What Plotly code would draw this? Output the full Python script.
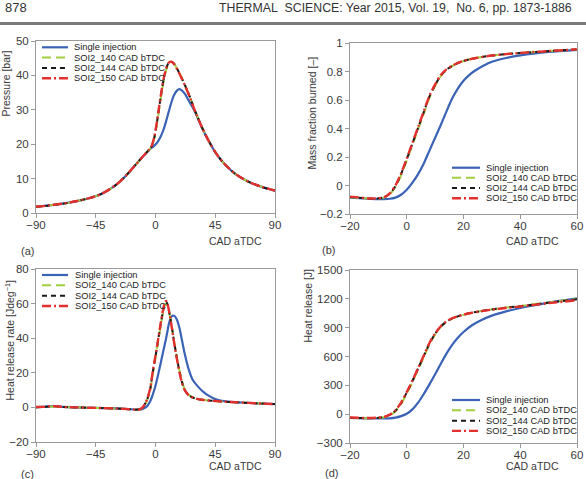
import plotly.graph_objects as go

# ---------------- data ----------------
series_names = ["Single injection", "SOI2_140 CAD bTDC", "SOI2_144 CAD bTDC", "SOI2_150 CAD bTDC"]

# (a) in-cylinder pressure [bar] vs CAD aTDC
p_cad = [-90, -80, -70, -60, -50, -45, -40, -35, -30, -25, -20, -15, -10, -7, -5, -3, -1, 0, 2, 4,
         6, 8, 10, 12, 14, 16, 18, 20, 22, 24, 26, 28, 30, 35, 40, 45, 50, 55, 60, 70, 80, 90]
p_single = [1.8, 2.2, 2.7, 3.4, 4.3, 4.9, 5.7, 6.8, 8.1, 9.8, 11.8, 14.0, 16.2, 17.4, 18.2, 18.9, 19.5, 19.9, 20.9, 22.3,
            24.2, 26.7, 29.5, 32.2, 34.3, 35.5, 36.0, 35.6, 34.7, 33.4, 32.0, 30.7, 29.2, 24.8, 21.0, 17.7, 15.1, 13.1, 11.4, 9.1, 7.6, 6.5]
p_soi140 = [1.8, 2.2, 2.7, 3.4, 4.3, 4.9, 5.7, 6.8, 8.1, 9.8, 11.8, 14.0, 16.2, 17.5, 18.3, 19.2, 21.5, 23.4, 28.2, 33.4,
            38.1, 41.5, 43.4, 43.8, 43.3, 42.1, 40.7, 39.1, 37.4, 35.6, 33.7, 31.6, 29.6, 25.0, 21.0, 17.7, 15.1, 13.1, 11.4, 9.1, 7.6, 6.5]
p_soi144 = [1.8, 2.2, 2.7, 3.4, 4.3, 4.9, 5.7, 6.8, 8.1, 9.8, 11.8, 14.0, 16.2, 17.5, 18.4, 19.3, 21.8, 23.8, 28.7, 33.9,
            38.6, 41.9, 43.7, 44.0, 43.4, 42.1, 40.6, 39.0, 37.3, 35.5, 33.6, 31.5, 29.5, 24.9, 21.0, 17.7, 15.1, 13.1, 11.4, 9.1, 7.6, 6.5]
p_soi150 = [1.8, 2.2, 2.7, 3.4, 4.3, 4.9, 5.7, 6.8, 8.1, 9.8, 11.8, 14.0, 16.2, 17.5, 18.4, 19.4, 22.0, 24.0, 29.0, 34.2,
            38.8, 42.0, 43.7, 44.0, 43.3, 42.0, 40.5, 38.9, 37.2, 35.4, 33.5, 31.4, 29.4, 24.9, 21.0, 17.7, 15.1, 13.1, 11.4, 9.1, 7.6, 6.5]

# (b) mass fraction burned [-]
m_cad = [-20, -17, -14, -11, -8, -6, -4, -2, 0, 2, 4, 6, 8, 10, 12, 14, 16, 18, 20, 22, 24, 27, 30, 35, 40, 50, 60]
m_single = [-0.085, -0.088, -0.092, -0.095, -0.095, -0.093, -0.085, -0.065, -0.03, 0.02, 0.08, 0.155, 0.245, 0.335, 0.425,
            0.52, 0.61, 0.68, 0.735, 0.775, 0.805, 0.84, 0.868, 0.895, 0.913, 0.937, 0.952]
m_soi140 = [-0.082, -0.086, -0.09, -0.092, -0.085, -0.062, -0.01, 0.072, 0.175, 0.285, 0.395, 0.505, 0.615, 0.70, 0.768,
            0.81, 0.837, 0.858, 0.873, 0.884, 0.893, 0.903, 0.912, 0.922, 0.93, 0.943, 0.955]
m_soi144 = [-0.08, -0.085, -0.09, -0.092, -0.083, -0.058, -0.004, 0.08, 0.185, 0.295, 0.405, 0.515, 0.625, 0.705, 0.772,
            0.813, 0.839, 0.859, 0.874, 0.885, 0.893, 0.903, 0.912, 0.922, 0.93, 0.943, 0.955]
m_soi150 = [-0.078, -0.083, -0.09, -0.09, -0.082, -0.055, 0.0, 0.085, 0.19, 0.30, 0.41, 0.52, 0.63, 0.71, 0.775,
            0.815, 0.84, 0.86, 0.875, 0.885, 0.893, 0.903, 0.912, 0.922, 0.93, 0.943, 0.955]

# (c) heat release rate [J/deg]
r_cad = [-90, -85, -80, -75, -70, -60, -50, -40, -30, -20, -15, -12, -10, -8, -6, -4, -2, 0, 2, 4,
         6, 7, 8, 9, 10, 12, 14, 16, 18, 20, 22, 25, 28, 32, 36, 40, 45, 50, 60, 70, 80, 90]
r_single = [0.2, 0.3, 0.6, 0.7, 0.3, 0.0, -0.2, -0.4, -0.6, -1.0, -1.2, -1.2, -1.0, -0.3, 1.0, 3.5, 7.5, 12.5, 19.0, 26.0,
            33.0, 36.5, 40.0, 44.0, 48.0, 52.5, 53.0, 51.0, 46.0, 38.5, 31.0, 22.0, 16.0, 12.0, 9.0, 6.8, 4.8, 3.8, 3.0, 2.6, 2.2, 1.9]
r_soi140 = [0.1, 0.2, 0.4, 0.5, 0.2, 0.0, -0.2, -0.4, -0.6, -1.0, -1.3, -1.2, -0.4, 1.5, 4.8, 10.0, 19.5, 28.5, 38.0, 47.5,
            56.0, 59.0, 60.0, 59.0, 56.0, 48.0, 38.5, 29.5, 21.5, 15.0, 10.5, 7.3, 5.8, 4.9, 4.4, 4.0, 3.7, 3.4, 3.0, 2.6, 2.2, 1.9]
r_soi144 = [0.1, 0.2, 0.5, 0.6, 0.3, 0.0, -0.2, -0.4, -0.6, -1.0, -1.3, -1.1, -0.3, 1.8, 5.2, 10.6, 20.5, 29.5, 39.0, 48.5,
            57.0, 60.2, 61.0, 59.8, 56.5, 47.8, 38.0, 29.0, 21.0, 14.5, 10.2, 7.1, 5.7, 4.8, 4.3, 4.0, 3.7, 3.4, 3.0, 2.6, 2.2, 1.9]
r_soi150 = [0.2, 0.3, 0.6, 0.7, 0.3, 0.0, -0.2, -0.4, -0.6, -1.0, -1.3, -1.1, -0.2, 2.0, 5.5, 11.0, 21.0, 30.0, 39.5, 49.0,
            57.5, 60.5, 61.5, 60.0, 56.5, 47.5, 37.5, 28.5, 20.5, 14.0, 10.0, 7.0, 5.6, 4.8, 4.3, 4.0, 3.7, 3.4, 3.0, 2.6, 2.2, 1.9]

# (d) cumulative heat release [J]
h_cad = [-20, -17, -14, -11, -8, -6, -4, -2, 0, 2, 4, 6, 8, 10, 12, 14, 16, 18, 20, 23, 26, 30, 35, 40, 50, 60]
h_single = [-40, -42, -44, -45, -45, -43, -36, -20, 5, 50, 120, 210, 310, 415, 525, 630, 720, 795, 855, 925,
            975, 1025, 1070, 1105, 1160, 1205]
h_soi140 = [-40, -42, -43, -41, -32, -12, 28, 105, 215, 335, 465, 595, 725, 830, 908, 960, 995, 1016, 1034, 1055,
            1072, 1091, 1109, 1126, 1163, 1200]
h_soi144 = [-38, -40, -42, -40, -30, -8, 35, 115, 225, 345, 475, 605, 735, 836, 912, 963, 997, 1018, 1035, 1056,
            1072, 1090, 1108, 1124, 1160, 1195]
h_soi150 = [-35, -38, -40, -38, -28, -5, 40, 120, 230, 350, 480, 610, 740, 840, 915, 965, 998, 1018, 1035, 1055,
            1070, 1088, 1105, 1120, 1155, 1185]

# tick settings
a_xticks = [-90, -45, 0, 45, 90]
b_xticks = [-20, 0, 20, 40, 60]

# ---------------- styling ----------------
W, H = 586, 479
FONT = "Liberation Sans, Arial, Helvetica, sans-serif"
colors = ["#3a62b5", "#9fce3e", "#1a1a1a", "#e3302f"]
dashes = ["solid", "9px,5px", "5px,4px", "9px,3px,2px,3px"]
widths = [2.2, 2.0, 2.0, 2.4]


def fx(p):
    return p / W


def fy(p):
    return 1 - p / H


panels = [
    dict(key="a", xp=(36, 275), yp=(41, 213), x=p_cad, ys=[p_single, p_soi140, p_soi144, p_soi150],
         xr=[-90, 90], xt=a_xticks, yr=[0, 50], dt=10, yt="Pressure [bar]", ytpos=(6, 83.5),
         leg=(42, 68, 72, [47.3, 57.6, 67.9, 78.2]), xtpos=(235, 241.5), lab=("(a)", 27.5, 251)),
    dict(key="b", xp=(350, 577), yp=(43, 214), x=m_cad, ys=[m_single, m_soi140, m_soi144, m_soi150],
         xr=[-20, 60], xt=b_xticks, yr=[-0.2, 1], dt=0.2, yt="Mass fraction burned [\u2013]", ytpos=(311, 113.5),
         leg=(452, 480, 484, [167.7, 177.8, 187.9, 198.2]), xtpos=(532, 241.5), lab=("(b)", 328, 250)),
    dict(key="c", xp=(36, 275), yp=(269, 442), x=r_cad, ys=[r_single, r_soi140, r_soi144, r_soi150],
         xr=[-90, 90], xt=a_xticks, yr=[-20, 80], dt=20, yt="Heat release rate [Jdeg<sup>\u22121</sup>]", ytpos=(9, 340.5),
         leg=(42, 68, 73, [275, 285.3, 295.7, 306]), xtpos=(235, 466), lab=("(c)", 27.5, 474)),
    dict(key="d", xp=(350, 577), yp=(270, 443), x=h_cad, ys=[h_single, h_soi140, h_soi144, h_soi150],
         xr=[-20, 60], xt=b_xticks, yr=[-300, 1500], dt=300, yt="Heat release [J]", ytpos=(307, 305.5),
         leg=(452, 480, 484, [400, 410.3, 420.7, 430.9]), xtpos=(532, 465.5), lab=("(d)", 331, 473)),
]

fig = go.Figure()
annotations = []
shapes = []
layout_axes = {}

for i, pnl in enumerate(panels):
    n = "" if i == 0 else str(i + 1)
    for s, yv in enumerate(pnl["ys"]):
        fig.add_trace(go.Scatter(
            x=pnl["x"], y=yv, mode="lines", name=series_names[s], showlegend=False,
            line=dict(color=colors[s], width=widths[s], dash=dashes[s], shape="spline", smoothing=0.8),
            xaxis="x" + n, yaxis="y" + n, hoverinfo="x+y+name"))
    common = dict(showline=True, mirror=True, linecolor="#9a9a9a", linewidth=1, ticks="outside",
                  ticklen=4, tickcolor="#9a9a9a", showgrid=False, zeroline=False, automargin=False,
                  tickfont=dict(family=FONT, size=11.5, color="#3a3a3a"))
    layout_axes["xaxis" + n] = dict(domain=[fx(pnl["xp"][0]), fx(pnl["xp"][1])], range=pnl["xr"],
                                    tickvals=pnl["xt"], anchor="y" + n, ticklabelstandoff=-3, **common)
    layout_axes["yaxis" + n] = dict(domain=[fy(pnl["yp"][1]), fy(pnl["yp"][0])], range=pnl["yr"],
                                    dtick=pnl["dt"], tick0=0, anchor="x" + n, **common)
    # y-axis title
    annotations.append(dict(x=fx(pnl["ytpos"][0]), y=fy(pnl["ytpos"][1]), xref="paper", yref="paper",
                            text=pnl["yt"], textangle=-90, showarrow=False, xanchor="center", yanchor="middle",
                            font=dict(family=FONT, size=10.5, color="#3a3a3a")))
    # x-axis title
    annotations.append(dict(x=fx(pnl["xtpos"][0]), y=fy(pnl["xtpos"][1]), xref="paper", yref="paper",
                            text="CAD aTDC", showarrow=False, xanchor="center", yanchor="middle",
                            font=dict(family=FONT, size=10.5, color="#3a3a3a")))
    # panel label
    lab = pnl["lab"]
    annotations.append(dict(x=fx(lab[1]), y=fy(lab[2]), xref="paper", yref="paper", text=lab[0],
                            showarrow=False, xanchor="center", yanchor="middle",
                            font=dict(family=FONT, size=11, color="#3a3a3a")))
    # compact legend
    lx0, lx1, tx, rows = pnl["leg"]
    for s, ry in enumerate(rows):
        shapes.append(dict(type="line", xref="paper", yref="paper", x0=fx(lx0), x1=fx(lx1), y0=fy(ry), y1=fy(ry),
                           line=dict(color=colors[s], width=widths[s], dash=dashes[s])))
        annotations.append(dict(x=fx(tx), y=fy(ry), xref="paper", yref="paper", text=series_names[s],
                                showarrow=False, xanchor="left", yanchor="middle",
                                font=dict(family=FONT, size=9.3, color="#222222")))

# page header
annotations.append(dict(x=fx(3), y=fy(8), xref="paper", yref="paper", text="878", showarrow=False,
                        xanchor="left", yanchor="middle", font=dict(family=FONT, size=13, color="#333333")))
annotations.append(dict(x=fx(217), y=fy(8.5), xref="paper", yref="paper",
                        text="THERMAL\u00a0 SCIENCE: Year 2015, Vol. 19,\u00a0 No. 6, pp. 1873-1886",
                        showarrow=False, xanchor="left", yanchor="middle",
                        font=dict(family=FONT, size=12.3, color="#333333")))
# header rule: a thin filled annotation box spanning the page width
annotations.append(dict(x=0.5, y=fy(23), xref="paper", yref="paper", text="\u00a0", showarrow=False,
                        xanchor="center", yanchor="middle", width=W, height=1, borderpad=0, borderwidth=0,
                        bgcolor="#7a7a7a", font=dict(family=FONT, size=1, color="#7a7a7a")))

# header rule also drawn as the line of an empty, label-free axis strip across the page
fig.add_trace(go.Scatter(x=[], y=[], xaxis="x5", yaxis="y5", showlegend=False, hoverinfo="skip"))
layout_axes["xaxis5"] = dict(domain=[0, 1], anchor="y5", range=[0, 1], showline=True, linecolor="#7a7a7a",
                             linewidth=1.6, showticklabels=False, ticks="", showgrid=False, zeroline=False,
                             automargin=False, fixedrange=True)
layout_axes["yaxis5"] = dict(domain=[fy(23), fy(21)], anchor="x5", range=[0, 1], showline=False,
                             showticklabels=False, ticks="", showgrid=False, zeroline=False,
                             automargin=False, fixedrange=True)

fig.update_layout(
    width=W, height=H, autosize=False,
    margin=dict(l=0, r=0, t=0, b=0, autoexpand=False),
    paper_bgcolor="white", plot_bgcolor="white",
    showlegend=False,
    annotations=annotations, shapes=shapes,
    **layout_axes,
)

# remove the default page margin so the figure fills the window exactly
fig.write_html("out.html", config={"displayModeBar": False},
               post_script="document.body.style.margin='0px';")
